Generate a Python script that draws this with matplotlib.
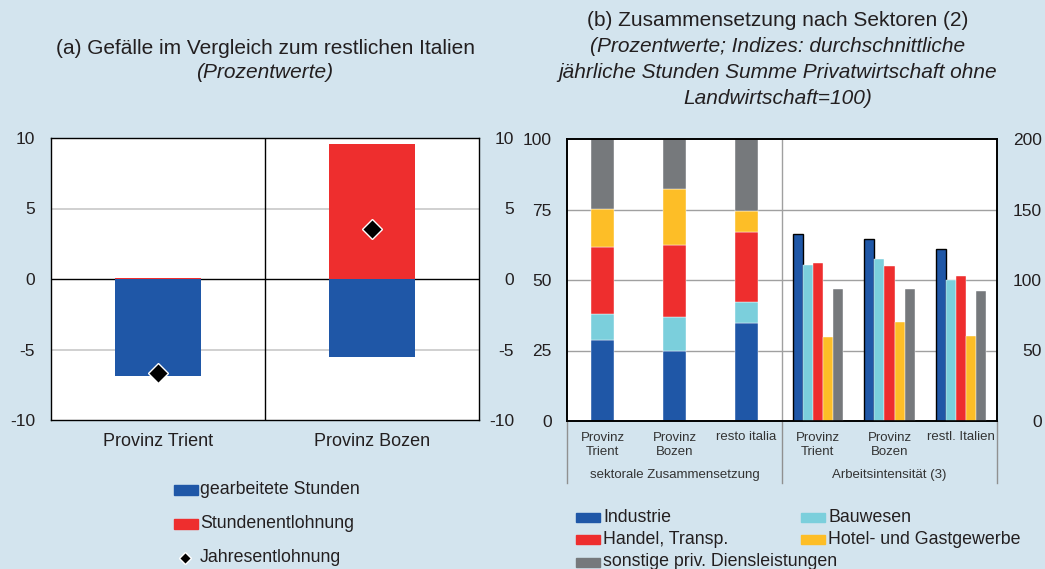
import matplotlib
matplotlib.use("Agg")
import matplotlib.pyplot as plt
from matplotlib.patches import Rectangle
from matplotlib.lines import Line2D
import matplotlib.transforms as mtransforms
import numpy as np

plt.rcParams['font.family'] = ['Liberation Sans', 'DejaVu Sans']

# ---------------- data ----------------
# panel (a)
prov_a = ["Provinz Trient", "Provinz Bozen"]
gearbeitete_stunden = [-6.9, -5.55]
stundenentlohnung = [0.1, 9.55]
jahresentlohnung = [-6.7, 3.55]
ticks_a = [-10, -5, 0, 5, 10]

# panel (b) - sectoral composition (stacked, %)
comp_labels = ["Provinz\nTrient", "Provinz\nBozen", "resto italia"]
comp_industrie = [28.8, 24.7, 34.9]
comp_bau = [9.2, 12.2, 7.4]
comp_handel = [23.8, 25.5, 24.8]
comp_hotel = [13.5, 19.9, 7.4]
comp_sonst = [24.7, 17.7, 25.5]

# panel (b) - labour intensity (index, right axis)
int_labels = ["Provinz\nTrient", "Provinz\nBozen", "restl. Italien"]
int_industrie = [132.4, 128.9, 121.8]
int_bau = [110.9, 114.7, 100.0]
int_handel = [112.1, 109.7, 102.8]
int_hotel = [59.8, 70.4, 60.5]
int_sonst = [93.4, 93.8, 92.0]

sector_names = ["Industrie", "Bauwesen", "Handel, Transp.", "Hotel- und Gastgewerbe",
                "sonstige priv. Diensleistungen"]
group_labels = ["sektorale Zusammensetzung", "Arbeitsintensität (3)"]
ticks_left_b = [0, 25, 50, 75, 100]
ticks_right_b = [0, 50, 100, 150, 200]

# ---------------- style ----------------
BG = "#D3E4EE"
BLUE = "#1F57A7"
CYAN = "#7BCFDC"
RED = "#EE2E2E"
YELLOW = "#FDBE27"
GRAY = "#76797C"
TXT = "#231F20"
colors = [BLUE, CYAN, RED, YELLOW, GRAY]

TITLE_FS = 15
TICK_FS = 12.5
CAT_FS = 13
LEG_FS = 12.8
SMALL_FS = 9.5

W, H = 1045, 569
fig = plt.figure(figsize=(W / 100, H / 100), dpi=100, facecolor=BG)


def fx(px):
    return px / W


def fy(py):
    return 1 - py / H


# ---------------- panel (a) ----------------
axa = fig.add_axes([fx(51), fy(420), fx(428), (420 - 138) / H])
axa.set_facecolor("white")
xa = np.arange(len(prov_a))
axa.set_xlim(-0.5, 1.5)
axa.set_ylim(-10, 10)
for v in [-5, 5]:
    axa.axhline(v, color="#C8C8C8", lw=1.2, zorder=0)
axa.axhline(0, color="black", lw=1.0, zorder=1)
axa.axvline(0.5, color="black", lw=1.0, zorder=1)
axa.bar(xa, gearbeitete_stunden, width=0.4, color=BLUE, zorder=2)
axa.bar(xa, stundenentlohnung, width=0.4, color=RED, zorder=2)
axa.plot(xa, jahresentlohnung, linestyle="none", marker="D", markersize=10,
         markerfacecolor="black", markeredgecolor="white", markeredgewidth=1.0, zorder=3)
axa.set_yticks(ticks_a)
axa.set_yticklabels([str(t) for t in ticks_a])
axa.tick_params(axis="y", length=0, pad=11.5, labelsize=TICK_FS, colors=TXT)
# right-hand labels of panel (a), right aligned
tr_a = mtransforms.blended_transform_factory(fig.transFigure, axa.transData)
for t in ticks_a:
    fig.text(fx(514), t, str(t), transform=tr_a, ha="right", va="center_baseline",
             fontsize=TICK_FS, color=TXT)
axa.set_xticks(xa)
axa.set_xticklabels(prov_a)
axa.tick_params(axis="x", length=0, pad=9, labelsize=CAT_FS, colors=TXT)
for s in axa.spines.values():
    s.set_color("black")
    s.set_linewidth(1.0)

fig.text(fx(265), fy(48), "(a) Gefälle im Vergleich zum restlichen Italien",
         ha="center", va="center", fontsize=TITLE_FS, color=TXT)
fig.text(fx(265), fy(73), "(Prozentwerte)", ha="center", va="center",
         fontsize=TITLE_FS, style="italic", color=TXT)

# legend (a)
leg_a = [(BLUE, "gearbeitete Stunden", 490), (RED, "Stundenentlohnung", 524)]
for c, lab, yy in leg_a:
    fig.add_artist(Rectangle((fx(174), fy(yy + 5)), fx(24), 10 / H, color=c,
                             transform=fig.transFigure))
    fig.text(fx(200), fy(yy), lab, ha="left", va="center", fontsize=LEG_FS, color=TXT)
fig.add_artist(Line2D([fx(185)], [fy(558)], marker="D", markersize=6,
                      markerfacecolor="black", markeredgecolor="white",
                      transform=fig.transFigure))
fig.text(fx(200), fy(558), "Jahresentlohnung", ha="left", va="center",
         fontsize=LEG_FS, color=TXT)

# ---------------- panel (b) ----------------
axb = fig.add_axes([fx(567), fy(421), fx(430), (421 - 139) / H])
axb.set_facecolor("white")
axb.set_xlim(-0.5, 5.5)
axb.set_ylim(0, 100)
for v in [25, 50, 75]:
    axb.axhline(v, color="#A0A0A0", lw=1.0, zorder=0)
axb.axvline(2.5, color="#A0A0A0", lw=1.0, zorder=0)

xc = np.arange(3)
comp_series = [comp_industrie, comp_bau, comp_handel, comp_hotel, comp_sonst]
bottom = np.zeros(3)
for vals, c in zip(comp_series, colors):
    axb.bar(xc, vals, bottom=bottom, width=0.32, color=c, zorder=2,
            edgecolor="white", linewidth=0.3)
    bottom += np.array(vals)

axb.set_yticks(ticks_left_b)
axb.set_yticklabels([str(t) for t in ticks_left_b])
axb.tick_params(axis="y", length=0, pad=11, labelsize=TICK_FS, colors=TXT)
axb.set_xticks([])
for s in axb.spines.values():
    s.set_color("black")
    s.set_linewidth(1.2)

axr = axb.twinx()
axr.set_ylim(0, 200)
int_series = [int_industrie, int_bau, int_handel, int_hotel, int_sonst]
xg = np.arange(3) + 3
bw = 0.14
for i, (vals, c) in enumerate(zip(int_series, colors)):
    ec = "black" if i == 0 else "white"
    lw = 1.0 if i == 0 else 0.3
    axr.bar(xg + (i - 2) * bw, vals, width=bw, color=c, edgecolor=ec,
            linewidth=lw, zorder=2)
axr.set_yticks(ticks_right_b)
axr.set_yticklabels([])
axr.tick_params(axis="y", length=0)
tr_r = mtransforms.blended_transform_factory(fig.transFigure, axr.transData)
for t in ticks_right_b:
    fig.text(fx(1042), t, str(t), transform=tr_r, ha="right", va="center_baseline",
             fontsize=TICK_FS, color=TXT)
for s in axr.spines.values():
    s.set_color("black")
    s.set_linewidth(1.2)

# category labels below panel (b)
trans = mtransforms.blended_transform_factory(axb.transData, fig.transFigure)
for i, lab in enumerate(comp_labels + int_labels):
    yy = fy(445) if "\n" in lab else fy(437)
    axb.text(i, yy, lab, transform=trans, ha="center", va="center",
             fontsize=SMALL_FS, color="#333333", linespacing=1.3)
axb.text(1, fy(475), group_labels[0], transform=trans, ha="center", va="center",
         fontsize=SMALL_FS, color="#333333")
axb.text(4, fy(475), group_labels[1], transform=trans, ha="center", va="center",
         fontsize=SMALL_FS, color="#333333")
for xs in [-0.5, 2.5, 5.5]:
    axb.add_line(Line2D([xs, xs], [fy(421), fy(483)], transform=trans,
                        color="#909090", lw=1.0, clip_on=False))

fig.text(fx(778), fy(21), "(b) Zusammensetzung nach Sektoren (2)",
         ha="center", va="center", fontsize=TITLE_FS, color=TXT)
for yy, t in [(47, "(Prozentwerte; Indizes: durchschnittliche"),
              (73, "jährliche Stunden Summe Privatwirtschaft ohne"),
              (99, "Landwirtschaft=100)")]:
    fig.text(fx(778), fy(yy), t, ha="center", va="center", fontsize=TITLE_FS,
             style="italic", color=TXT)

# legend (b)
leg_b = [(0, 0), (1, 0), (0, 1), (1, 1), (0, 2)]
for (col, row), c, lab in zip(leg_b, colors, sector_names):
    x0 = 576 if col == 0 else 801
    yy = 517 + row * 22.5
    fig.add_artist(Rectangle((fx(x0), fy(yy + 4.5)), fx(24), 9 / H, color=c,
                             transform=fig.transFigure))
    fig.text(fx(x0 + 27), fy(yy), lab, ha="left", va="center", fontsize=LEG_FS,
             color=TXT)

fig.savefig("out.png", dpi=100, facecolor=BG)
